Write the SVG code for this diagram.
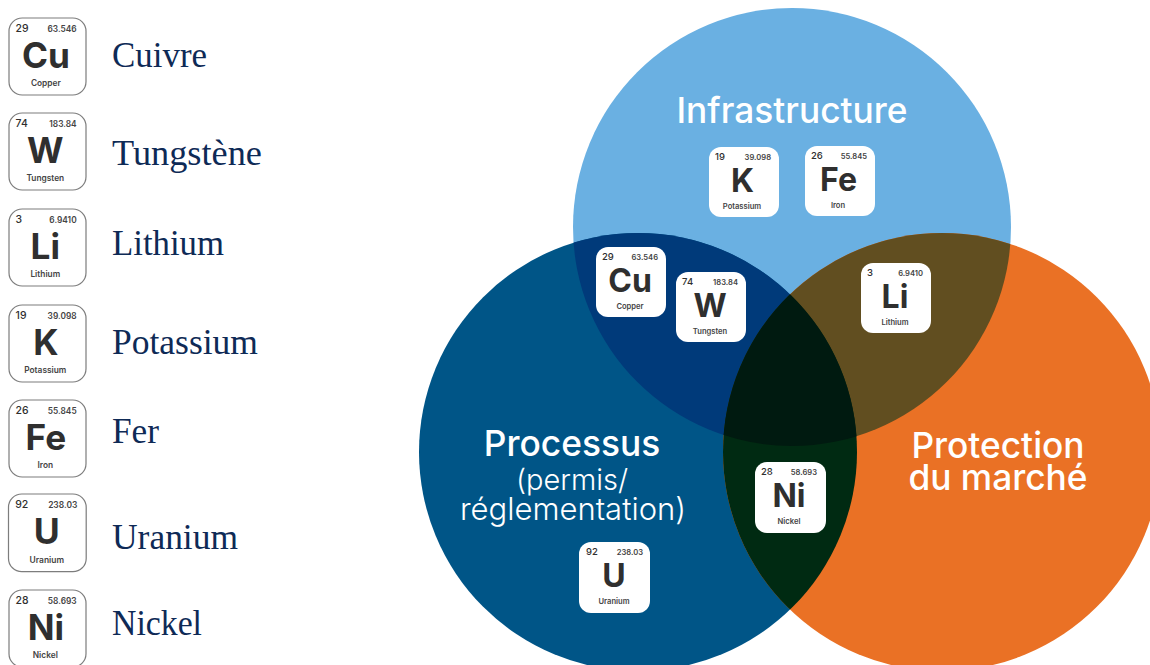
<svg xmlns="http://www.w3.org/2000/svg" width="1150" height="665" viewBox="0 0 1150 665">
<style>
.bg{fill:#fff}
.plain{fill:#fff}
.out{fill:#fff;stroke:#7d7d7d;stroke-width:1.1}
.n,.m,.s,.e{font-family:Inter,"Liberation Sans",sans-serif;fill:#2f2f2f}
.n{font-size:9.5px;font-weight:500}
.m{font-size:7.6px;font-weight:600;text-anchor:end;fill:#444}
.s{font-size:32px;font-weight:700;text-anchor:middle}
.e{font-size:7.6px;font-weight:600;text-anchor:middle;fill:#444}
.lab{font-family:"Liberation Serif",serif;font-size:35px;fill:#0e2a56}
.h{font-family:Inter,"Open Sans",sans-serif;fill:#fff;text-anchor:middle;font-weight:500;font-size:35.3px}
.l{font-weight:300;font-size:31px}
.p{font-size:29px}
</style>
<defs>
<clipPath id="cT"><circle cx="792" cy="227" r="219"/></clipPath>
<clipPath id="cL"><circle cx="638" cy="452" r="219"/></clipPath>
<clipPath id="cR"><circle cx="942" cy="452" r="219"/></clipPath>
<clipPath id="cLR" clip-path="url(#cL)"><circle cx="942" cy="452" r="219"/></clipPath>
</defs>
<rect class="bg" width="1150" height="665"/>
<g id="venn">
<circle id="circle-infrastructure" cx="792" cy="227" r="219" fill="#6ab0e2"/>
<circle id="circle-processus" cx="638" cy="452" r="219" fill="#005587"/>
<circle id="circle-protection" cx="942" cy="452" r="219" fill="#ea7125"/>
<g clip-path="url(#cT)">
<circle cx="638" cy="452" r="219" fill="#003a7a"/>
<circle cx="942" cy="452" r="219" fill="#614e20"/>
</g>
<g clip-path="url(#cL)"><circle cx="942" cy="452" r="219" fill="#002a12"/></g>
<g clip-path="url(#cLR)"><circle cx="792" cy="227" r="219" fill="#001a10"/></g>
</g>
<g id="titles">
<text class="h" x="792" y="123">Infrastructure</text>
<text class="h" x="572" y="456">Processus</text>
<text class="h l p" x="572" y="490">(permis/</text>
<text class="h l" x="573" y="520">réglementation)</text>
<text class="h" x="998" y="458">Protection</text>
<text class="h" x="998" y="490">du marché</text>
</g>
<g id="labels">
<text class="lab" x="112" y="66.5" textLength="95" lengthAdjust="spacingAndGlyphs">Cuivre</text>
<text class="lab" x="112" y="164.5" textLength="150" lengthAdjust="spacingAndGlyphs">Tungstène</text>
<text class="lab" x="112" y="254.5" textLength="112" lengthAdjust="spacingAndGlyphs">Lithium</text>
<text class="lab" x="112" y="353.5" textLength="146" lengthAdjust="spacingAndGlyphs">Potassium</text>
<text class="lab" x="112" y="442.5" textLength="47" lengthAdjust="spacingAndGlyphs">Fer</text>
<text class="lab" x="112" y="548.5" textLength="126" lengthAdjust="spacingAndGlyphs">Uranium</text>
<text class="lab" x="112" y="635" textLength="90" lengthAdjust="spacingAndGlyphs">Nickel</text>
</g>
<g id="legend-cu" transform="translate(9,18) scale(1.1)"><rect class="out" width="70" height="70" rx="12"/><text class="n" x="6" y="12.5">29</text><text class="m" x="61.5" y="12.5">63.546</text><text class="s" x="33.5" y="45">Cu</text><text class="e" x="33.5" y="62">Copper</text></g>
<g id="legend-w" transform="translate(9,113) scale(1.1)"><rect class="out" width="70" height="70" rx="12"/><text class="n" x="6" y="12.5">74</text><text class="m" x="61.5" y="12.5">183.84</text><text class="s" x="33" y="45">W</text><text class="e" x="33" y="62">Tungsten</text></g>
<g id="legend-li" transform="translate(9,209) scale(1.1)"><rect class="out" width="70" height="70" rx="12"/><text class="n" x="6" y="12.5">3</text><text class="m" x="61.5" y="12.5">6.9410</text><text class="s" x="33" y="45">Li</text><text class="e" x="33" y="62">Lithium</text></g>
<g id="legend-k" transform="translate(9,305) scale(1.1)"><rect class="out" width="70" height="70" rx="12"/><text class="n" x="6" y="12.5">19</text><text class="m" x="61.5" y="12.5">39.098</text><text class="s" x="33.5" y="45">K</text><text class="e" x="33" y="61.5">Potassium</text></g>
<g id="legend-fe" transform="translate(9,400) scale(1.1)"><rect class="out" width="70" height="70" rx="12"/><text class="n" x="6" y="12.5">26</text><text class="m" x="61.5" y="12.5">55.845</text><text class="s" x="33.5" y="45">Fe</text><text class="e" x="33" y="61.5">Iron</text></g>
<g id="legend-u" transform="translate(8.5,494) scale(1.11)"><rect class="out" width="70" height="70" rx="12"/><text class="n" x="6" y="12.5">92</text><text class="m" x="62" y="12.5">238.03</text><text class="s" x="34.5" y="45">U</text><text class="e" x="34.5" y="62">Uranium</text></g>
<g id="legend-ni" transform="translate(9,590) scale(1.1)"><rect class="out" width="70" height="70" rx="12"/><text class="n" x="6" y="12.5">28</text><text class="m" x="61.5" y="12.5">58.693</text><text class="s" x="33.5" y="45">Ni</text><text class="e" x="33" y="62">Nickel</text></g>
<g id="card-k" transform="translate(709,147)"><rect class="plain" width="70" height="70" rx="12"/><text class="n" x="6" y="12.5">19</text><text class="m" x="62" y="12.5">39.098</text><text class="s" x="33.5" y="45">K</text><text class="e" x="33" y="62">Potassium</text></g>
<g id="card-fe" transform="translate(805,146)"><rect class="plain" width="70" height="70" rx="12"/><text class="n" x="6" y="12.5">26</text><text class="m" x="62" y="12.5">55.845</text><text class="s" x="33.5" y="45">Fe</text><text class="e" x="33" y="62">Iron</text></g>
<g id="card-cu" transform="translate(596,247)"><rect class="plain" width="70" height="70" rx="12"/><text class="n" x="6" y="12.5">29</text><text class="m" x="62" y="12.5">63.546</text><text class="s" x="34" y="45">Cu</text><text class="e" x="34" y="62">Copper</text></g>
<g id="card-w" transform="translate(676,272)"><rect class="plain" width="70" height="70" rx="12"/><text class="n" x="6" y="12.5">74</text><text class="m" x="62" y="12.5">183.84</text><text class="s" x="34" y="45">W</text><text class="e" x="34" y="62">Tungsten</text></g>
<g id="card-li" transform="translate(861,263)"><rect class="plain" width="70" height="70" rx="12"/><text class="n" x="6" y="12.5">3</text><text class="m" x="62" y="12.5">6.9410</text><text class="s" x="34" y="45">Li</text><text class="e" x="34" y="62">Lithium</text></g>
<g id="card-ni" transform="translate(755,462)"><rect class="plain" width="71" height="71" rx="12"/><text class="n" x="6" y="12.5">28</text><text class="m" x="62" y="12.5">58.693</text><text class="s" x="34" y="45">Ni</text><text class="e" x="34" y="62">Nickel</text></g>
<g id="card-u" transform="translate(579,542)"><rect class="plain" width="71" height="71" rx="12"/><text class="n" x="7" y="12.5">92</text><text class="m" x="64" y="12.5">238.03</text><text class="s" x="35" y="45">U</text><text class="e" x="35" y="62">Uranium</text></g>
</svg>
